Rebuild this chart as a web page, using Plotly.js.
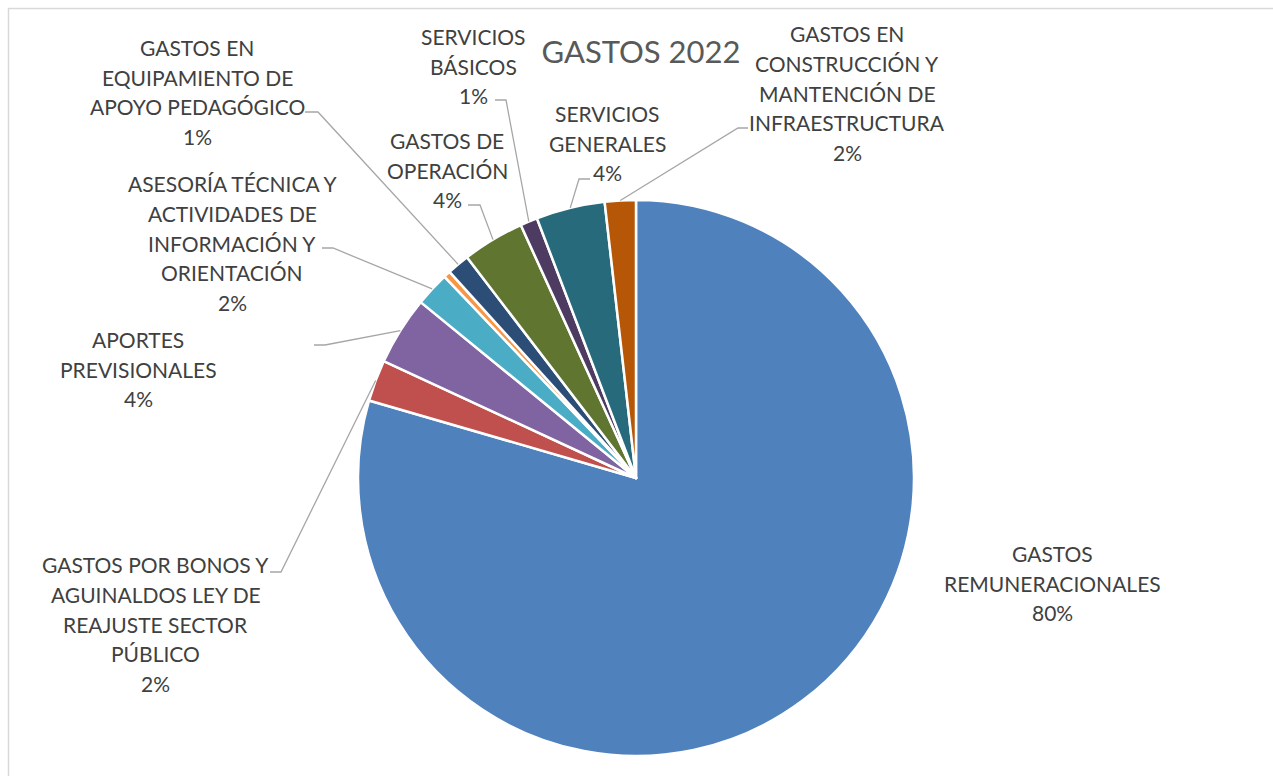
<!DOCTYPE html>
<html>
<head>
<meta charset="utf-8">
<script src="https://cdn.plot.ly/plotly-3.0.1.min.js"></script>
<style>
html,body{margin:0;padding:0;background:#ffffff;}
#chart{width:1273px;height:776px;}
</style>
</head>
<body>
<div id="chart"></div>
<script>
// ---------- data ----------
const categories = [
  'GASTOS REMUNERACIONALES',
  'GASTOS POR BONOS Y AGUINALDOS LEY DE REAJUSTE SECTOR PÚBLICO',
  'APORTES PREVISIONALES',
  'ASESORÍA TÉCNICA Y ACTIVIDADES DE INFORMACIÓN Y ORIENTACIÓN',
  'OTROS',
  'GASTOS EN EQUIPAMIENTO DE APOYO PEDAGÓGICO',
  'GASTOS DE OPERACIÓN',
  'SERVICIOS BÁSICOS',
  'SERVICIOS GENERALES',
  'GASTOS EN CONSTRUCCIÓN Y MANTENCIÓN DE INFRAESTRUCTURA'
];
const values = [79.5, 2.4, 4.0, 2.0, 0.4, 1.3, 3.6, 1.0, 4.0, 1.8];
const labelLines = [
  ['GASTOS', 'REMUNERACIONALES'],
  ['GASTOS POR BONOS Y', 'AGUINALDOS LEY DE', 'REAJUSTE SECTOR', 'PÚBLICO'],
  ['APORTES', 'PREVISIONALES'],
  ['ASESORÍA TÉCNICA Y', 'ACTIVIDADES DE', 'INFORMACIÓN Y', 'ORIENTACIÓN'],
  null,
  ['GASTOS EN', 'EQUIPAMIENTO DE', 'APOYO PEDAGÓGICO'],
  ['GASTOS DE', 'OPERACIÓN'],
  ['SERVICIOS', 'BÁSICOS'],
  ['SERVICIOS', 'GENERALES'],
  ['GASTOS EN', 'CONSTRUCCIÓN Y', 'MANTENCIÓN DE', 'INFRAESTRUCTURA']
];
const titleText = 'GASTOS 2022';

// ---------- style / layout ----------
const colors = ['#4F81BD', '#C0504D', '#8064A2', '#4BACC6', '#F79646',
                '#2C4D75', '#5F7530', '#4D3B62', '#276A7C', '#B65708'];
const W = 1273, H = 776;
const CX = 636, CY = 478, R = 278;
const FONT = 'Lato, "Open Sans", sans-serif';
const LABEL_SIZE = 21, LINE_GAP = 29.6;
const labelPos = [[1052, 583], [155.5, 624], [138, 369], [232, 243], null,
                  [197, 92], [447, 170], [473, 66], [607, 143], [847, 93]];
const leaderStart = [null, [270, 572], [314, 345], [322, 248], null,
                     [305, 112], [468, 205], [495, 100], [590, 179], [748, 128]];
const leaderElbow = [null, [281, 572], [325, 345], [333, 248], null,
                     [318, 112], [480, 205], [506, 100], [579, 179], [738, 128]];

const px = x => x / W;
const py = y => 1 - y / H;

const total = values.reduce((a, b) => a + b, 0);
const annotations = [];
const shapes = [];

// chart-area border (top and left visible)
shapes.push({type: 'path', xref: 'paper', yref: 'paper',
  path: `M ${px(8.5)} ${py(H + 5)} L ${px(8.5)} ${py(8.5)} L ${px(W + 5)} ${py(8.5)}`,
  line: {color: '#D9D9D9', width: 1.5}});

let cum = 0;
values.forEach((v, i) => {
  const mid = (cum + v / 2) / total * 2 * Math.PI;
  cum += v;
  if (!labelLines[i]) return;
  const lines = labelLines[i].concat([Math.round(v / total * 100) + '%']);
  const [lx, ly] = labelPos[i];
  lines.forEach((t, k) => {
    annotations.push({
      xref: 'paper', yref: 'paper',
      x: px(lx), y: py(ly + (k - (lines.length - 1) / 2) * LINE_GAP),
      xanchor: 'center', yanchor: 'middle', showarrow: false,
      text: t, font: {family: FONT, size: LABEL_SIZE, color: '#404040'}
    });
  });
  if (leaderStart[i]) {
    const ex = CX + R * Math.sin(mid), ey = CY - R * Math.cos(mid);
    const s = leaderStart[i], e = leaderElbow[i];
    shapes.push({type: 'path', xref: 'paper', yref: 'paper',
      path: `M ${px(s[0])} ${py(s[1])} L ${px(e[0])} ${py(e[1])} L ${px(ex)} ${py(ey)}`,
      line: {color: '#A6A6A6', width: 1.3}});
  }
});

const trace = {
  type: 'pie',
  labels: categories,
  values: values,
  sort: false,
  direction: 'clockwise',
  rotation: 0,
  textinfo: 'none',
  hoverinfo: 'label+percent',
  marker: {colors: colors, line: {color: '#FFFFFF', width: 2.5}},
  domain: {x: [px(CX - R), px(CX + R)], y: [py(CY + R), py(CY - R)]},
  showlegend: false
};

const layout = {
  width: W, height: H,
  margin: {l: 0, r: 0, t: 0, b: 0},
  paper_bgcolor: '#FFFFFF',
  showlegend: false,
  title: {text: titleText, x: px(641), xanchor: 'center', xref: 'paper',
          y: py(52), yanchor: 'middle', yref: 'paper',
          font: {family: FONT, size: 31, color: '#595959'}},
  annotations: annotations,
  shapes: shapes
};

Plotly.newPlot('chart', [trace], layout, {displayModeBar: false, staticPlot: true});
</script>
</body>
</html>
